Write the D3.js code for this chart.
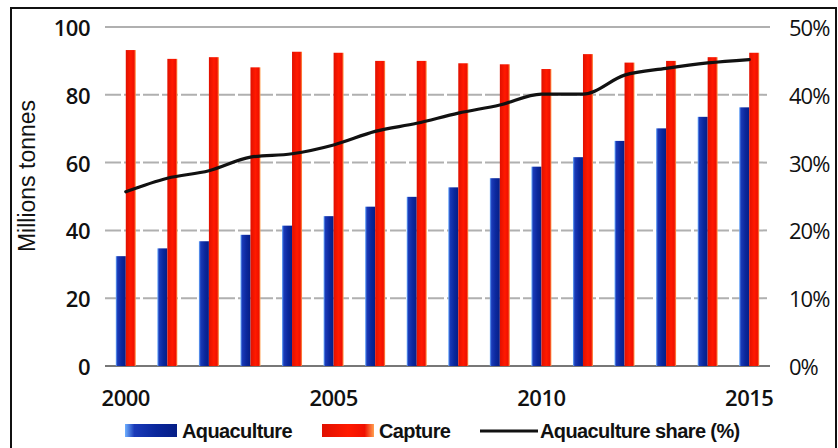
<!DOCTYPE html>
<html>
<head>
<meta charset="utf-8">
<script src="https://cdn.jsdelivr.net/npm/d3@7"></script>
<style>
  html, body { margin: 0; padding: 0; background: #fff; }
  svg { display: block; }
</style>
</head>
<body>
<svg id="chart" width="838" height="448"></svg>
<script>
const years = [2000,2001,2002,2003,2004,2005,2006,2007,2008,2009,2010,2011,2012,2013,2014,2015];
const aquaculture = [32.4,34.7,36.8,38.7,41.4,44.2,47.0,49.9,52.7,55.4,58.8,61.6,66.4,70.1,73.5,76.3];
const capture = [93.2,90.6,91.1,88.1,92.7,92.4,90.0,90.0,89.3,89.0,87.6,92.0,89.5,90.0,91.1,92.4];
const share = [25.7,27.7,28.8,30.8,31.3,32.6,34.6,35.8,37.3,38.5,40.1,40.1,42.9,43.9,44.7,45.2];
const leftTicks = [0,20,40,60,80,100];
const rightTicks = [0,10,20,30,40,50];
const xLabelYears = [2000,2005,2010,2015];
const seriesNames = ["Aquaculture","Capture","Aquaculture share (%)"];

const svg = d3.select("#chart");
const plot = {left: 105, right: 770, top: 27, bottom: 366};

const defs = svg.append("defs");
const gb = defs.append("linearGradient").attr("id","gBlue").attr("x1","0").attr("x2","1").attr("y1","0").attr("y2","0");
gb.append("stop").attr("offset","0").attr("stop-color","#6fb0ff");
gb.append("stop").attr("offset","0.18").attr("stop-color","#1a3ab8");
gb.append("stop").attr("offset","0.6").attr("stop-color","#0a279c");
gb.append("stop").attr("offset","1").attr("stop-color","#061e86");
const gr = defs.append("linearGradient").attr("id","gRed").attr("x1","0").attr("x2","1").attr("y1","0").attr("y2","0");
gr.append("stop").attr("offset","0").attr("stop-color","#e01000");
gr.append("stop").attr("offset","0.5").attr("stop-color","#ff1a00");
gr.append("stop").attr("offset","0.82").attr("stop-color","#f01000");
gr.append("stop").attr("offset","1").attr("stop-color","#ffa050");

// outer border
svg.append("rect").attr("x",11).attr("y",8).attr("width",825).attr("height",444)
  .attr("fill","none").attr("stroke","#111").attr("stroke-width",2);

const x = d3.scaleBand().domain(years).range([plot.left, plot.right]).paddingInner(0).paddingOuter(0);
const yL = d3.scaleLinear().domain([0,100]).range([plot.bottom, plot.top]);
const yR = d3.scaleLinear().domain([0,50]).range([plot.bottom, plot.top]);
const barW = 10;

// gridlines
svg.append("g").selectAll("line").data(leftTicks).join("line")
  .attr("x1", plot.left).attr("x2", plot.right)
  .attr("y1", d => yL(d)).attr("y2", d => yL(d))
  .attr("stroke", d => d === 0 ? "#777" : "#b0b0b0")
  .attr("stroke-width", 2)
  .attr("stroke-dasharray", d => (d === 0 || d === 100) ? null : "16,3");

// bars
const groups = svg.append("g").selectAll("g").data(years).join("g");
groups.append("rect")
  .attr("x", (d) => x(d) + x.bandwidth()/2 - barW)
  .attr("width", barW)
  .attr("y", (d,i) => yL(aquaculture[i]))
  .attr("height", (d,i) => yL(0) - yL(aquaculture[i]))
  .attr("fill", "url(#gBlue)");
groups.append("rect")
  .attr("x", (d) => x(d) + x.bandwidth()/2)
  .attr("width", barW)
  .attr("y", (d,i) => yL(capture[i]))
  .attr("height", (d,i) => yL(0) - yL(capture[i]))
  .attr("fill", "url(#gRed)");

// share line
const line = d3.line()
  .x((d,i) => x(years[i]) + x.bandwidth()/2)
  .y(d => yR(d))
  .curve(d3.curveMonotoneX);
svg.append("path").datum(share).attr("d", line)
  .attr("fill","none").attr("stroke","#111").attr("stroke-width",3.2)
  .attr("stroke-linejoin","round").attr("stroke-linecap","round");

// axes text
const tickFont = "'Open Sans', 'DejaVu Sans', sans-serif";
svg.append("g").selectAll("text").data(leftTicks).join("text")
  .attr("x", 90).attr("y", d => yL(d) + 9)
  .attr("text-anchor","end")
  .attr("font-family", tickFont).attr("font-size", 22).attr("font-weight", 600)
  .attr("fill","#111").attr("letter-spacing", -0.5)
  .text(d => d);
svg.append("g").selectAll("text").data(rightTicks).join("text")
  .attr("x", 789).attr("y", d => yR(d) + 9)
  .attr("text-anchor","start")
  .attr("font-family", tickFont).attr("font-size", 22).attr("font-weight", 500)
  .attr("fill","#111").attr("letter-spacing", -1)
  .text(d => d + "%");
svg.append("g").selectAll("text").data(xLabelYears).join("text")
  .attr("x", d => x(d) + x.bandwidth()/2).attr("y", 406)
  .attr("text-anchor","middle")
  .attr("font-family", tickFont).attr("font-size", 22).attr("font-weight", 600)
  .attr("fill","#111").attr("letter-spacing", -0.5)
  .text(d => d);

svg.append("text")
  .attr("transform","translate(35,176) rotate(-90)")
  .attr("text-anchor","middle")
  .attr("font-family","'Liberation Sans', Arial, sans-serif").attr("font-size",23)
  .attr("fill","#111")
  .text("Millions tonnes");

// legend
const legFont = "'Liberation Sans', Arial, sans-serif";
const legItems = [
  {name: seriesNames[0], x: 125, type: "rect", fill: "url(#gBlue)"},
  {name: seriesNames[1], x: 322, type: "rect", fill: "url(#gRed)"},
  {name: seriesNames[2], x: 480, type: "line"}
];
const leg = svg.append("g").selectAll("g").data(legItems).join("g");
leg.filter(d => d.type === "rect").append("rect")
  .attr("x", d => d.x).attr("y", 424).attr("width", 52).attr("height", 13)
  .attr("fill", d => d.fill);
leg.filter(d => d.type === "line").append("line")
  .attr("x1", d => d.x).attr("x2", d => d.x + 58).attr("y1", 431).attr("y2", 431)
  .attr("stroke","#111").attr("stroke-width",3);
leg.append("text")
  .attr("x", d => d.x + (d.type === "line" ? 60 : 57)).attr("y", 438)
  .attr("font-family", legFont).attr("font-size", 20).attr("font-weight", 600)
  .attr("fill","#111").attr("letter-spacing", -0.6)
  .text(d => d.name);
</script>
</body>
</html>
